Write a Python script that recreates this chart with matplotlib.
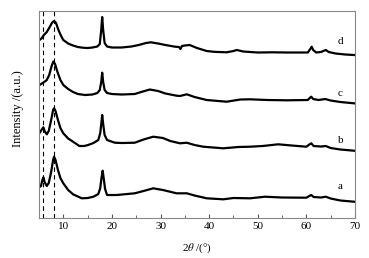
import matplotlib
matplotlib.use("Agg")
import matplotlib.pyplot as plt
from matplotlib.ticker import MultipleLocator

plt.rcParams['font.family'] = ['Liberation Serif', 'DejaVu Serif']
plt.rcParams['mathtext.fontset'] = 'stix'

# XRD patterns, stacked
tt_a = [5.1, 5.4, 5.7, 5.9, 6.15, 6.6, 7.0, 7.5, 7.9, 8.1, 8.4, 8.9, 9.4, 10, 11, 12, 13.8, 15, 16.2, 17.2,
        17.6, 17.85, 18.1, 18.3, 18.6, 19, 21, 24.7, 26.5, 28.5, 30.5, 33.3, 35.4, 37, 39.5, 42.9, 45, 48.4,
        51.5, 55, 60, 60.6, 61, 61.5, 63, 64, 65, 67, 69.8]
int_a = [31, 32, 38, 40.7, 36, 32, 35, 46, 58, 61.3, 58, 48, 40, 34.7, 28, 23.7, 19.7, 20, 21.3, 24,
         30, 40, 47.3, 40, 29, 23, 23, 24.7, 27, 29.7, 28, 24.7, 24.7, 22.5, 19.7, 18.7, 20, 19.7,
         21.3, 20.5, 20.3, 22, 23, 21, 20.5, 21.3, 19.5, 17.5, 16.3]

tt_b = [5.1, 5.5, 5.9, 6.2, 6.6, 7.0, 7.5, 7.9, 8.1, 8.4, 8.9, 9.4, 10, 11, 12, 13.3, 14.3, 15.1, 16.2, 17.2,
        17.6, 17.85, 18.0, 18.2, 18.5, 19, 20.6, 22, 24.7, 26.5, 28.5, 30.5, 32, 34, 35.4, 37, 38.8, 42.9,
        46, 48.4, 51, 54.2, 57, 60, 60.6, 61, 61.5, 63, 64, 65, 67, 69.8]
int_b = [85, 88, 90.7, 86.5, 83.7, 87, 98, 108, 109.7, 107, 98, 90, 84.7, 79.5, 76.3, 72, 72, 73, 75, 78,
         85, 96, 103, 94, 83, 78, 75.3, 75, 75.3, 78.5, 81.3, 80, 77, 74.7, 75.3, 73, 71.3, 69.7,
         71, 71.3, 72, 73.7, 72.5, 71.3, 73.5, 74.7, 72, 71.5, 72, 70, 68.5, 67.3]

tt_c = [5.1, 5.6, 6.2, 6.6, 7.1, 7.6, 7.95, 8.3, 8.8, 9.4, 10, 11, 12, 13, 14.5, 16, 17, 17.5, 17.8, 18.0,
        18.2, 18.5, 19, 20, 22, 24.7, 26, 27.8, 29.5, 31, 33.3, 34, 35.4, 37, 39.5, 43.6, 46.4, 48.4,
        52, 56, 60.3, 60.7, 61, 61.4, 62.5, 63.9, 65, 67, 69.8]
int_c = [133, 134.5, 136.5, 138, 143, 152, 156.5, 154, 146, 138, 133, 129, 126, 124, 123, 123.5, 125, 128, 136, 145.3,
         136, 128, 125, 124, 123.5, 124, 126, 128.5, 127, 124.5, 122.3, 122, 123.7, 121, 118, 116.3, 118.5, 118.7,
         118, 117.7, 118, 120, 121.3, 119, 118, 119, 117.5, 116, 114.7]

tt_d = [5.1, 5.5, 6.0, 6.6, 7.2, 7.7, 8.1, 8.5, 9.0, 9.5, 10, 11, 12, 13, 14, 15, 16, 17, 17.5, 17.8,
        18.0, 18.2, 18.5, 19, 20, 22, 24, 25.5, 27, 28, 29.5, 31, 33, 33.8, 34.1, 34.4, 35, 36, 37.5,
        39.5, 41, 43.6, 45, 45.7, 47, 50, 53, 56, 59, 60.3, 60.8, 61.1, 61.4, 62, 63, 64, 64.6, 66, 68, 69.8]
int_d = [178, 179.5, 183, 186, 191, 195.5, 197, 195, 188, 182.5, 178, 174.5, 172.5, 171, 170.3, 170, 170.5, 171.5, 174, 188,
         201, 188, 175, 171.5, 170.5, 170.5, 171.5, 173, 175, 175.7, 174.5, 173, 171.3, 171, 169, 172, 172.5, 173, 170,
         167, 166.2, 165.7, 167, 168, 166.5, 165.5, 165.7, 165.5, 165.5, 165.5, 169, 171.3, 168, 165.5, 166, 168, 166, 164.5, 163.5, 163]

labels = ['a', 'b', 'c', 'd']
label_x = [66.9, 67.05, 66.9, 67.05]
label_y = [32, 78, 124.7, 176.3]
ref_lines = [5.9, 8.15]

fig = plt.figure(figsize=(3.69, 2.58), dpi=100)
ax = fig.add_axes([0.1057, 0.155, 0.8563, 0.8035])

for tt, inten in [(tt_a, int_a), (tt_b, int_b), (tt_c, int_c), (tt_d, int_d)]:
    ax.plot(tt, inten, color='black', lw=1.6)

for xv in ref_lines:
    ax.axvline(xv, color='black', lw=0.8, ls=(0, (4, 3)))

for lab, lx, ly in zip(labels, label_x, label_y):
    ax.text(lx, ly, lab, fontsize=8, ha='center', va='center')

ax.set_xlim(5, 70)
ax.set_ylim(0, 207.3)
ax.xaxis.set_minor_locator(MultipleLocator(5))
ax.set_xticks([10, 20, 30, 40, 50, 60, 70])
ax.set_yticks([])
ax.tick_params(axis='x', which='both', direction='in', labelsize=8, color='#555555', pad=3)
ax.tick_params(axis='x', which='major', length=3)
ax.tick_params(axis='x', which='minor', length=2)
for sp in ax.spines.values():
    sp.set_color('#888888')
    sp.set_linewidth(0.8)

ax.set_xlabel(r'2$\theta$ /(°)', fontsize=8)
ax.xaxis.set_label_coords(0.5, -0.115)
ax.set_ylabel('Intensity /(a.u.)', fontsize=9)
ax.yaxis.set_label_coords(-0.049, 0.526)

fig.savefig('out.png', dpi=100)
